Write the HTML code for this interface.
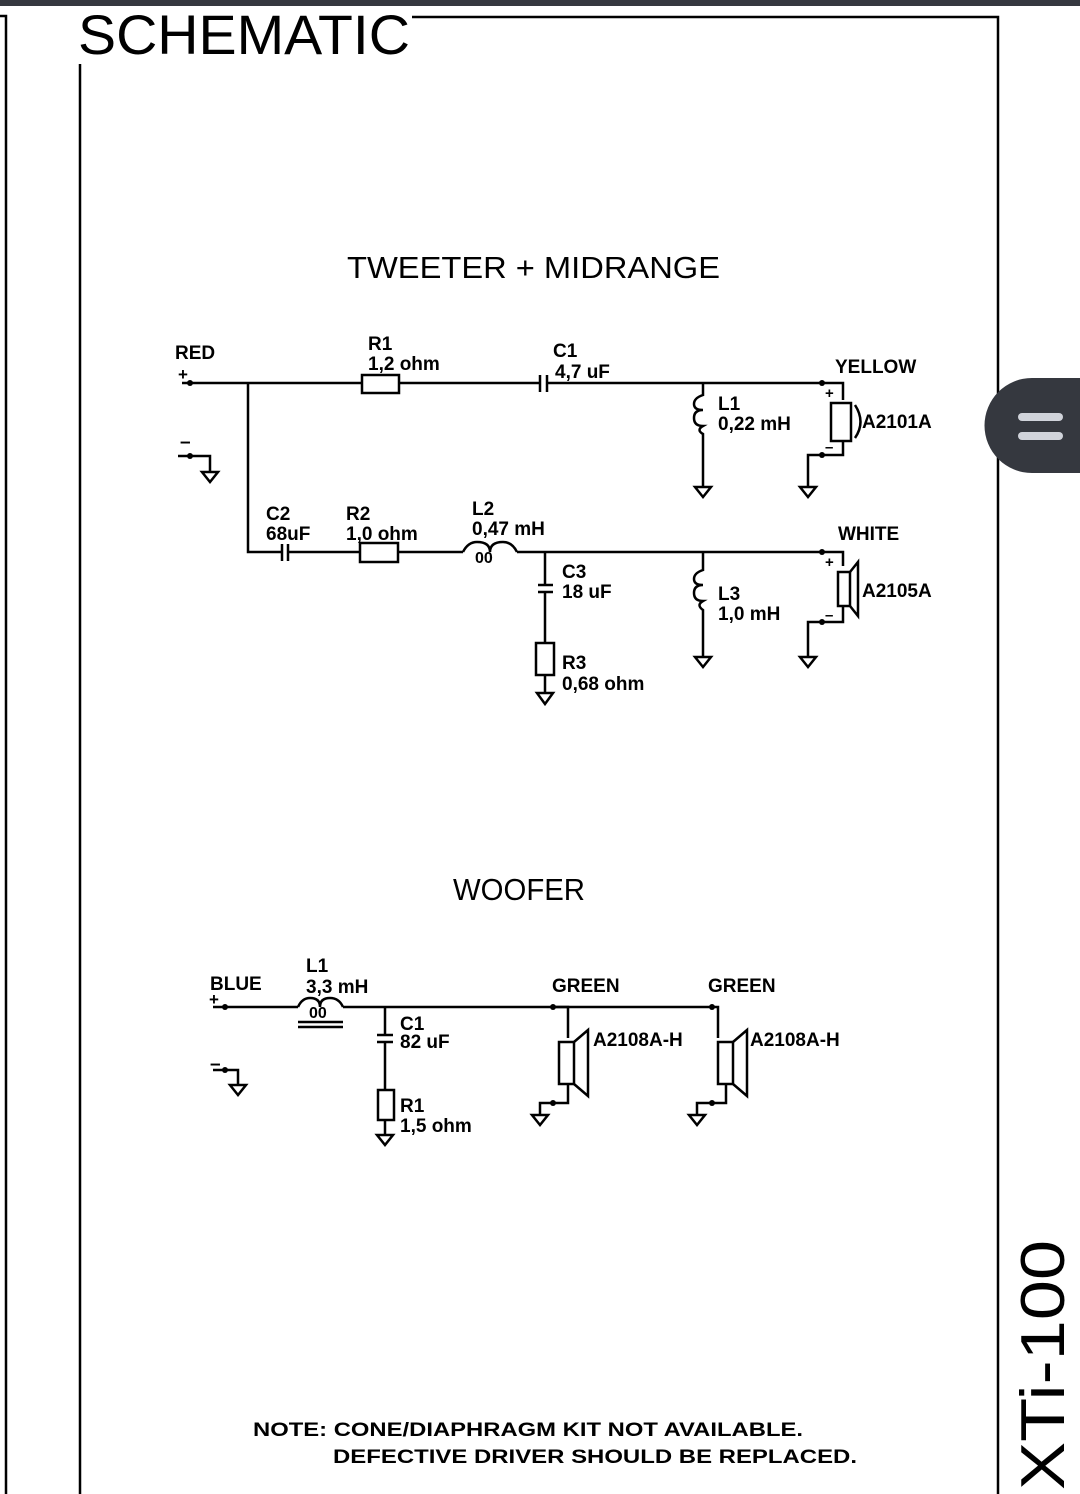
<!DOCTYPE html>
<html><head><style>
html,body{margin:0;padding:0;background:#fff;}
svg{display:block;}
text{font-family:"Liberation Sans",sans-serif;fill:#000;}
.l{font-size:19px;font-weight:bold;}
</style></head><body>
<svg width="1080" height="1494" viewBox="0 0 1080 1494" xmlns="http://www.w3.org/2000/svg">
<rect x="0" y="0" width="1080" height="6" fill="#35383f"/>
<g stroke="#000" stroke-width="2.5" fill="none">
<path d="M0 16 H6 V1494"/>
<path d="M412 17 H998 V1494"/>
<path d="M80 64 V1494"/>
<path d="M182 383 H362 M399 383 H540 M547 383 H843 V400"/>
<rect x="362" y="375" width="37" height="18"/>
<path d="M540 375 V392 M547 375 V392"/>
<path d="M248 383 V552 H282 M288 552 H360 M398 552 H463 M517 552 H843 V566"/>
<path d="M282 544 V561 M288 544 V561"/>
<rect x="360" y="543" width="38" height="19"/>
<path d="M463 552 Q468 542 477 542 Q490 542 490 552 Q490 542 503 542 Q512 542 517 552"/>
<path d="M178 456 H210 V472"/>
<path d="M202 472 H218 L210 482 Z"/>
<path d="M545 552 V585 M545 592 V643 M538 585 H553 M538 592 H553"/>
<rect x="536" y="643" width="18" height="32"/>
<path d="M545 675 V693 M537 693 H553 L545 704 Z"/>
<path d="M703 383 V395 Q694 398 694 404 Q694 410 703 410 Q694 410 694 418 Q694 426 703 426 Q696 430 703 434 V487"/>
<path d="M695 487 H711 L703 497 Z"/>
<rect x="831" y="403" width="20" height="38"/>
<path d="M855 405 Q866 422 855 438"/>
<path d="M843 441 V455 H808 V487 M800 487 H816 L808 497 Z"/>
<path d="M703 552 V570 Q694 573 694 579 Q694 585 703 585 Q694 585 694 593 Q694 601 703 601 Q696 605 703 610 V657"/>
<path d="M695 657 H711 L703 667 Z"/>
<rect x="838" y="572" width="12" height="34"/>
<path d="M850 572 L858 562 V616 L850 606"/>
<path d="M843 606 V622 H808 V657 M800 657 H816 L808 667 Z"/>
<path d="M213 1007 H298 M343 1007 H718 V1020"/>
<path d="M298 1007 Q302 998 310 998 Q320 998 320 1007 Q320 998 330 998 Q339 998 343 1007"/>
<path d="M298 1022 H343 M298 1027 H343"/>
<path d="M385 1007 V1035 M385 1042 V1090 M377 1035 H393 M377 1042 H393"/>
<rect x="378" y="1090" width="16" height="30"/>
<path d="M385 1120 V1135 M377 1135 H393 L385 1145 Z"/>
<path d="M213 1070 H238 V1085 M230 1085 H246 L238 1095 Z"/>
<path d="M553 1007 H568 V1038"/>
<rect x="559" y="1042" width="15" height="42"/>
<path d="M574 1042 L588 1030 V1096 L574 1084"/>
<path d="M568 1084 V1103 H540 V1115 M532 1115 H548 L540 1125 Z"/>
<path d="M718 1020 V1038"/>
<rect x="718" y="1042" width="15" height="42"/>
<path d="M733 1042 L747 1030 V1096 L733 1084"/>
<path d="M726 1084 V1103 H697 V1115 M689 1115 H705 L697 1125 Z"/>
</g>
<g fill="#000">
<circle cx="190" cy="383" r="3"/><circle cx="190" cy="456" r="3"/>
<circle cx="822" cy="383" r="3"/><circle cx="822" cy="455" r="3"/>
<circle cx="822" cy="552" r="3"/><circle cx="822" cy="622" r="3"/>
<circle cx="225" cy="1007" r="3"/><circle cx="225" cy="1070" r="3"/>
<circle cx="553" cy="1007" r="3"/><circle cx="553" cy="1103" r="3"/>
<circle cx="712" cy="1007" r="3"/><circle cx="712" cy="1103" r="3"/>
</g>
<text x="78" y="54" font-size="56" textLength="332" lengthAdjust="spacingAndGlyphs">SCHEMATIC</text>
<text x="347" y="278" font-size="31" textLength="373" lengthAdjust="spacingAndGlyphs">TWEETER + MIDRANGE</text>
<text x="453" y="900" font-size="31" textLength="132" lengthAdjust="spacingAndGlyphs">WOOFER</text>
<g class="l">
<text x="175" y="359">RED</text><text x="178" y="380" font-size="17">+</text>
<text x="180" y="448">–</text>
<text x="368" y="350">R1</text><text x="368" y="370">1,2 ohm</text>
<text x="553" y="357">C1</text><text x="555" y="378">4,7 uF</text>
<text x="835" y="373">YELLOW</text>
<text x="718" y="410">L1</text><text x="718" y="430">0,22 mH</text>
<text x="862" y="428">A2101A</text>
<text x="825" y="398" font-size="15">+</text><text x="825" y="452" font-size="15">–</text>
<text x="266" y="520">C2</text><text x="266" y="540">68uF</text>
<text x="346" y="520">R2</text><text x="346" y="540">1,0 ohm</text>
<text x="472" y="515">L2</text><text x="472" y="535">0,47 mH</text>
<text x="475" y="563" font-size="16">00</text>
<text x="838" y="540">WHITE</text>
<text x="562" y="578">C3</text><text x="562" y="598">18 uF</text>
<text x="718" y="600">L3</text><text x="718" y="620">1,0 mH</text>
<text x="862" y="597">A2105A</text>
<text x="825" y="567" font-size="15">+</text><text x="825" y="620" font-size="15">–</text>
<text x="562" y="669">R3</text><text x="562" y="690">0,68 ohm</text>
<text x="306" y="972">L1</text><text x="306" y="993">3,3 mH</text>
<text x="309" y="1018" font-size="16">00</text>
<text x="210" y="990">BLUE</text><text x="209" y="1005" font-size="17">+</text>
<text x="210" y="1070">–</text>
<text x="400" y="1030">C1</text><text x="400" y="1048">82 uF</text>
<text x="400" y="1112">R1</text><text x="400" y="1132">1,5 ohm</text>
<text x="552" y="992">GREEN</text><text x="708" y="992">GREEN</text>
<text x="593" y="1046">A2108A-H</text><text x="750" y="1046">A2108A-H</text>
<text x="253" y="1436" textLength="550" lengthAdjust="spacingAndGlyphs">NOTE: CONE/DIAPHRAGM KIT NOT AVAILABLE.</text>
<text x="333" y="1463" textLength="524" lengthAdjust="spacingAndGlyphs">DEFECTIVE DRIVER SHOULD BE REPLACED.</text>
</g>
<text transform="translate(1064 1490) rotate(-90)" font-size="62" textLength="250" lengthAdjust="spacingAndGlyphs">XTi-100</text>
<path d="M1032 378 H1080 V473 H1032 A47.5 47.5 0 0 1 1032 378 Z" fill="#35383f"/>
<rect x="1018" y="413" width="45" height="8" rx="4" fill="#d0d3da"/>
<rect x="1018" y="432" width="45" height="8" rx="4" fill="#d0d3da"/>
</svg>
</body></html>
